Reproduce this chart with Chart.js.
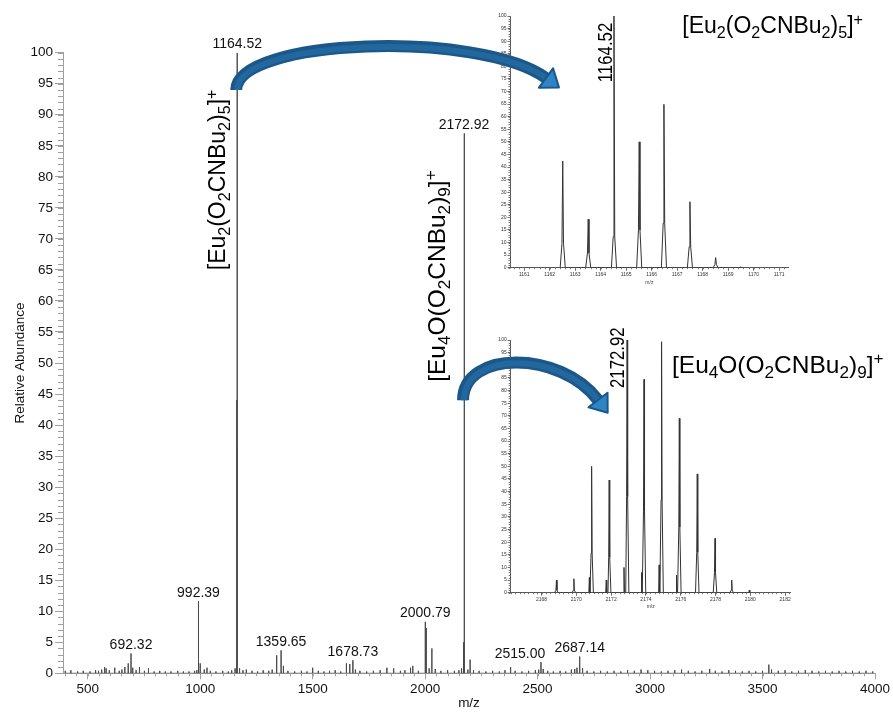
<!DOCTYPE html>
<html><head><meta charset="utf-8">
<script src="https://cdn.jsdelivr.net/npm/chart.js@4.4.1/dist/chart.umd.min.js"></script>
<style>
html,body{margin:0;padding:0;background:#fff;}
#wrap{position:relative;width:893px;height:715px;overflow:hidden;background:#fff;}
canvas{position:absolute;display:block;}
</style></head><body>
<div id="wrap">
<canvas id="main" width="893" height="715" style="left:0;top:0;width:893px;height:715px"></canvas>
<canvas id="insetA" width="420" height="292" style="left:470px;top:0;width:420px;height:292px"></canvas>
<canvas id="insetB" width="420" height="300" style="left:470px;top:315px;width:420px;height:300px"></canvas>
<canvas id="overlay" width="893" height="715" style="left:0;top:0;width:893px;height:715px;pointer-events:none"></canvas>
</div>
<script>
// ---------------- DATA ----------------
// Full-scan spectrum: m/z positions and relative abundances (%)
const mainMz = [
  400, 425, 455, 480, 510, 535, 548, 562, 575, 582,
  596, 620, 640, 652, 665, 680, 692.32, 700, 715, 730,
  752, 770, 795, 820, 845, 870, 900, 925, 950, 975,
  985, 992.39, 1000, 1018, 1030, 1045, 1070, 1100, 1125, 1140,
  1155, 1162.5, 1164.52, 1175, 1190, 1205, 1230, 1255, 1280, 1305,
  1320, 1340, 1359.65, 1370, 1390, 1420, 1450, 1475, 1500, 1525,
  1550, 1575, 1600, 1625, 1650, 1665, 1678.73, 1690, 1710, 1740,
  1770, 1800, 1830, 1860, 1890, 1910, 1935, 1945, 1970, 2000.79,
  2005, 2018, 2030, 2045, 2070, 2100, 2130, 2150, 2162, 2170.9,
  2172.92, 2175, 2190, 2200, 2215, 2240, 2270, 2300, 2330, 2355,
  2380, 2400, 2430, 2460, 2490, 2505, 2515, 2525, 2545, 2570,
  2600, 2625, 2650, 2665, 2675, 2687.14, 2700, 2720, 2750, 2780,
  2810, 2840, 2870, 2900, 2930, 2960, 2990, 3020, 3050, 3080,
  3110, 3140, 3170, 3200, 3230, 3265, 3290, 3320, 3350, 3380,
  3410, 3440, 3470, 3500, 3528, 3540, 3570, 3600, 3630, 3660,
  3690, 3720, 3750, 3780, 3810, 3840, 3870, 3900, 3930, 3960,
  3990
];
const mainAbund = [
  0.4, 0.5, 0.3, 0.4, 0.3, 0.5, 0.4, 0.6, 1.0, 0.8,
  0.5, 0.9, 0.4, 0.6, 1.0, 1.6, 3.2, 0.9, 0.5, 1.0,
  0.4, 0.8, 0.3, 0.4, 0.3, 0.3, 0.4, 0.3, 0.3, 0.4,
  0.5, 11.6, 1.6, 0.6, 0.9, 0.4, 0.3, 0.4, 0.3, 0.5,
  0.8, 44, 100, 0.8, 0.5, 0.6, 0.4, 0.3, 0.5, 0.4,
  0.6, 2.9, 3.7, 1.2, 0.4, 0.3, 0.4, 0.3, 0.9, 0.4,
  0.3, 0.4, 0.5, 0.3, 1.6, 1.5, 2.1, 0.6, 0.4, 0.3,
  0.4, 0.5, 0.9, 0.8, 0.4, 0.5, 0.9, 1.2, 0.4, 8.3,
  7.3, 0.8, 4.0, 0.7, 0.4, 0.5, 0.4, 0.5, 0.8, 5.0,
  87, 4.5, 0.6, 2.2, 0.5, 0.4, 0.3, 0.4, 0.3, 0.5,
  1.0, 0.4, 0.3, 0.4, 0.5, 0.6, 1.8, 0.7, 0.4, 0.3,
  0.4, 0.3, 0.6, 0.7, 0.9, 2.7, 0.8, 0.4, 0.3, 0.4,
  0.3, 0.4, 0.3, 0.5, 0.4, 0.6, 0.5, 0.4, 0.3, 0.4,
  0.5, 0.6, 0.4, 0.3, 0.4, 0.7, 0.4, 0.3, 0.5, 0.4,
  0.3, 0.4, 0.3, 0.4, 1.4, 0.6, 0.4, 0.5, 0.3, 0.4,
  0.5, 0.4, 0.3, 0.4, 0.3, 0.4, 0.3, 0.4, 0.3, 0.4,
  0.3
];
// Labelled peaks of the full spectrum
const peakLabelMz = [692.32, 992.39, 1164.52, 1359.65, 1678.73, 2000.79, 2172.92, 2515.00, 2687.14];
const peakLabelText = ['692.32', '992.39', '1164.52', '1359.65', '1678.73', '2000.79', '2172.92', '2515.00', '2687.14'];
// Axis ticks of the full spectrum
const mainXTicks = [500, 1000, 1500, 2000, 2500, 3000, 3500, 4000];
const mainYTicks = [0, 5, 10, 15, 20, 25, 30, 35, 40, 45, 50, 55, 60, 65, 70, 75, 80, 85, 90, 95, 100];

// Inset A: isotope pattern of [Eu2(O2CNBu2)5]+
const insetAMz = [1162.51, 1163.51, 1164.52, 1165.51, 1166.48, 1167.50, 1168.51, 1169.49];
const insetAAbund = [42.4, 19.3, 100, 50, 64.9, 26.2, 4.0, 0.4];
const insetAFoot = [9.7, 5.8, 12.3, 15, 17.7, 8.3, 1.2, 0];
const insetAXTicks = [1161, 1162, 1163, 1164, 1165, 1166, 1167, 1168, 1169, 1170, 1171];

// Inset B: isotope pattern of [Eu4O(O2CNBu2)9]+
const insetBMz = [2168.86, 2169.86, 2170.75, 2170.88, 2171.72, 2171.89, 2172.74, 2172.92, 2173.75, 2173.89,
                  2174.76, 2174.90, 2175.76, 2175.92, 2176.95, 2177.97, 2178.93, 2179.94];
const insetBAbund = [5, 5.5, 6, 50, 5, 44.6, 10, 100, 8, 84.4,
                     11, 99.3, 7, 69, 47, 21.5, 5, 1];
const insetBFoot = [1, 1, 0, 15.7, 0, 14, 0, 38, 0, 32,
                    0, 36.7, 0, 26, 16, 8, 1, 0];
const insetBXTicks = [2168, 2170, 2172, 2174, 2176, 2178, 2180, 2182];
const insetYTicks = mainYTicks;

// Formula labels (text segments: normal / sub / sup)
const formulaA = [['[Eu',''],['2','sub'],['(O',''],['2','sub'],['CNBu',''],['2','sub'],[')',''],['5','sub'],[']',''],['+','sup']];
const formulaB = [['[Eu',''],['4','sub'],['O(O',''],['2','sub'],['CNBu',''],['2','sub'],[')',''],['9','sub'],[']',''],['+','sup']];

// ---------------- HELPERS ----------------
const FONT = '"Liberation Sans", Arial, Helvetica, sans-serif';
function sticks(mz, ab){
  const p = [];
  mz.forEach((m,i)=>{ p.push({x:m,y:0},{x:m,y:ab[i]},{x:m,y:0}); });
  return p;
}
function profile(mz, ab, foot, w){
  const p = [];
  mz.forEach((m,i)=>{ p.push({x:m-w,y:0},{x:m-w*0.3,y:foot[i]},{x:m,y:ab[i]},{x:m+w*0.3,y:foot[i]},{x:m+w,y:0}); });
  return p;
}
function range(a,b,s){ const r=[]; for(let v=a; v<=b+1e-9; v+=s) r.push(+v.toFixed(4)); return r; }

function richWidth(ctx, segs, size, subScale){
  let w=0;
  for(const [t,k] of segs){ ctx.font = (k? size*subScale : size)+'px '+FONT; w += ctx.measureText(t).width; }
  return w;
}
function drawRich(ctx, segs, x, y, size){
  const subScale = 0.7;
  let cx = x;
  ctx.textAlign='left'; ctx.textBaseline='alphabetic';
  for(const [t,k] of segs){
    const s = k ? size*subScale : size;
    ctx.font = s+'px '+FONT;
    const dy = k==='sub' ? size*0.2 : (k==='sup' ? -size*0.36 : 0);
    ctx.fillText(t, cx, y+dy);
    cx += ctx.measureText(t).width;
  }
  return cx - x;
}
function drawRichRotated(ctx, segs, baseX, centerY, size){
  const w = richWidth(ctx, segs, size, 0.7);
  ctx.save();
  ctx.translate(baseX, centerY);
  ctx.rotate(-Math.PI/2);
  drawRich(ctx, segs, -w/2, 0, size);
  ctx.restore();
}

const minorTicks = {
  id:'minorTicks',
  afterDraw(chart, args, o){
    const ctx = chart.ctx, xs = chart.scales.x, ys = chart.scales.y;
    ctx.save();
    ctx.strokeStyle = o.color; ctx.lineWidth = 1;
    ctx.beginPath();
    for(const v of o.x){
      if(v < xs.min || v > xs.max) continue;
      const px = Math.round(xs.getPixelForValue(v)) + 0.5;
      ctx.moveTo(px, ys.bottom); ctx.lineTo(px, ys.bottom + o.xLen);
    }
    for(const v of o.y){
      const py = Math.round(ys.getPixelForValue(v)) + 0.5;
      ctx.moveTo(xs.left, py); ctx.lineTo(xs.left - o.yLen, py);
    }
    ctx.stroke();
    ctx.restore();
  }
};

const mainLabels = {
  id:'mainLabels',
  afterDatasetsDraw(chart){
    const ctx = chart.ctx, xs = chart.scales.x, ys = chart.scales.y;
    ctx.save();
    ctx.fillStyle = '#111';
    ctx.font = '14px '+FONT;
    ctx.textAlign = 'center'; ctx.textBaseline = 'alphabetic';
    peakLabelMz.forEach((m,i)=>{
      const ab = mainAbund[mainMz.indexOf(m)];
      const dx = m === 2515.00 ? -21 : 0;
      ctx.fillText(peakLabelText[i], xs.getPixelForValue(m)+dx, ys.getPixelForValue(ab)-4.5);
    });
    // rotated formula labels beside the two dominant peaks
    ctx.fillStyle = '#000';
    drawRichRotated(ctx, formulaA, xs.getPixelForValue(1164.52)-12, ys.getPixelForValue(79.5), 23);
    drawRichRotated(ctx, formulaB, xs.getPixelForValue(2172.92)-19, ys.getPixelForValue(64), 24.5);
    ctx.restore();
  }
};

const insetLabels = {
  id:'insetLabels',
  afterDatasetsDraw(chart, args, o){
    const ctx = chart.ctx, xs = chart.scales.x, ys = chart.scales.y;
    ctx.save();
    ctx.fillStyle = '#000';
    ctx.font = '20px '+FONT;
    ctx.translate(xs.getPixelForValue(o.mz) + o.dx, ys.getPixelForValue(o.val));
    ctx.rotate(-Math.PI/2);
    ctx.scale(0.84, 1);
    ctx.textAlign = 'center'; ctx.textBaseline = 'alphabetic';
    ctx.fillText(o.text, 0, 0);
    ctx.restore();
    ctx.save();
    ctx.fillStyle = '#000';
    drawRich(ctx, o.formula, xs.right + o.fx, o.fy, o.fsize);
    ctx.restore();
  }
};

// ---------------- MAIN CHART ----------------
const mainChart = new Chart(document.getElementById('main'), {
  type:'line',
  data:{ datasets:[{ data: sticks(mainMz, mainAbund), borderColor:'#4a4a4a', borderWidth:1, pointRadius:0, tension:0, fill:false }] },
  options:{
    responsive:false, animation:false, events:[],
    layout:{ padding:{ left:0, top:52.7, right:18, bottom:0 } },
    plugins:{ legend:{display:false}, tooltip:{enabled:false},
      minorTicks:{ x: range(400, 4000, 50), y: range(0, 100, 1), xLen:3, yLen:5, color:'#a0a0a0' } },
    scales:{
      x:{ type:'linear', min:390, max:4000,
        afterFit(s){ s.height = 41.7; },
        afterBuildTicks(s){ s.ticks = mainXTicks.map(v=>({value:v})); },
        ticks:{ font:{family:FONT, size:13.5}, color:'#111', padding:2, maxRotation:0, autoSkip:false, callback:v=>String(v) },
        grid:{ drawOnChartArea:false, tickLength:6, color:'#a0a0a0', tickColor:'#a0a0a0' },
        border:{ color:'#a0a0a0', width:1 },
        title:{ display:true, text:'m/z', font:{family:FONT, size:13.5}, color:'#111', padding:{top:0,bottom:4} }
      },
      y:{ type:'linear', min:0, max:100,
        afterFit(s){ s.width = 63; },
        afterBuildTicks(s){ s.ticks = mainYTicks.map(v=>({value:v})); },
        ticks:{ font:{family:FONT, size:13.5}, color:'#111', padding:2, autoSkip:false, callback:v=>String(v) },
        grid:{ drawOnChartArea:false, tickLength:8, color:'#a0a0a0', tickColor:'#a0a0a0' },
        border:{ color:'#a0a0a0', width:1 },
        title:{ display:true, text:'Relative Abundance', font:{family:FONT, size:13.5}, color:'#111', padding:{top:12,bottom:0} }
      }
    }
  },
  plugins:[minorTicks, mainLabels]
});

// ---------------- INSETS ----------------
function makeInset(id, pts, xmin, xmax, xTicks, xMinor, pad, yW, xH, titleBottom, labelOpts){
  return new Chart(document.getElementById(id), {
    type:'line',
    data:{ datasets:[{ data: pts, borderColor:'#333', borderWidth:1, pointRadius:0, tension:0, fill:false }] },
    options:{
      responsive:false, animation:false, events:[],
      layout:{ padding: pad },
      plugins:{ legend:{display:false}, tooltip:{enabled:false},
        minorTicks:{ x: xMinor, y: range(0,100,1), xLen:1.5, yLen:2, color:'#777' },
        insetLabels: labelOpts },
      scales:{
        x:{ type:'linear', min:xmin, max:xmax,
          afterFit(s){ s.height = xH; },
          afterBuildTicks(s){ s.ticks = xTicks.map(v=>({value:v})); },
          ticks:{ font:{family:FONT, size:5}, color:'#333', padding:1, maxRotation:0, autoSkip:false, callback:v=>String(v) },
          grid:{ drawOnChartArea:false, tickLength:3, color:'#666', tickColor:'#666' },
          border:{ color:'#555', width:1 },
          title:{ display:true, text:'m/z', font:{family:FONT, size:5}, color:'#333', padding:{top:0,bottom:titleBottom} }
        },
        y:{ type:'linear', min:0, max:100,
          afterFit(s){ s.width = yW; },
          afterBuildTicks(s){ s.ticks = insetYTicks.map(v=>({value:v})); },
          ticks:{ font:{family:FONT, size:5}, color:'#333', padding:1, autoSkip:false, callback:v=>String(v) },
          grid:{ drawOnChartArea:false, tickLength:3, color:'#666', tickColor:'#666' },
          border:{ color:'#555', width:1 }
        }
      }
    },
    plugins:[minorTicks, insetLabels]
  });
}

const insetA = makeInset('insetA', profile(insetAMz, insetAAbund, insetAFoot, 0.1),
  1160.46, 1171.36, insetAXTicks, range(1160.6, 1171.2, 0.2),
  {left:0, top:16, right:101.7, bottom:0}, 40.5, 24.3, 6,
  { text:'1164.52', mz:1164.52, dx:-2, val:85.5, formula: formulaA, fx:-106, fy:33, fsize:23 });

const insetB = makeInset('insetB', profile(insetBMz, insetBAbund, insetBFoot, 0.1),
  2166.23, 2182.32, insetBXTicks, range(2166.25, 2182.25, 0.25),
  {left:0, top:25, right:99.3, bottom:0}, 40.7, 22.3, 5,
  { text:'2172.92', mz:2172.92, dx:-3, val:93, formula: formulaB, fx:-118.7, fy:58, fsize:24.5 });

// ---------------- ARROWS (annotation overlay) ----------------
(function(){
  const c = document.getElementById('overlay');
  const ctx = c.getContext('2d');
  const xs = mainChart.scales.x, ys = mainChart.scales.y;
  function arrow(p0, c1, c2, p3){
    ctx.save();
    ctx.lineCap = 'butt';
    ctx.beginPath(); ctx.moveTo(p0[0],p0[1]); ctx.bezierCurveTo(c1[0],c1[1],c2[0],c2[1],p3[0],p3[1]);
    ctx.strokeStyle = '#1b5889'; ctx.lineWidth = 12; ctx.stroke();
    ctx.beginPath(); ctx.moveTo(p0[0]+1,p0[1]); ctx.bezierCurveTo(c1[0]+1,c1[1]+1,c2[0],c2[1]+1,p3[0],p3[1]);
    ctx.strokeStyle = '#22679e'; ctx.lineWidth = 6; ctx.stroke();
    const dx = p3[0]-c2[0], dy = p3[1]-c2[1], L = Math.hypot(dx,dy);
    const ux = dx/L, uy = dy/L, nx = -uy, ny = ux;
    const hw = 12, hl = 16;
    ctx.beginPath();
    ctx.moveTo(p3[0]+nx*hw, p3[1]+ny*hw);
    ctx.lineTo(p3[0]+ux*hl, p3[1]+uy*hl);
    ctx.lineTo(p3[0]-nx*hw, p3[1]-ny*hw);
    ctx.closePath();
    ctx.fillStyle = '#2f84c6'; ctx.fill();
    ctx.strokeStyle = '#1b5889'; ctx.lineWidth = 2; ctx.lineJoin='round'; ctx.stroke();
    ctx.restore();
  }
  const t1x = xs.getPixelForValue(1164.52) - 1, t1y = ys.getPixelForValue(94);
  arrow([t1x, t1y], [t1x, 38], [480, 30], [546, 78]);
  const t2x = xs.getPixelForValue(2172.92) - 1, t2y = ys.getPixelForValue(44.0);
  arrow([t2x, t2y], [t2x, 350], [560, 350], [598, 400]);
})();
</script>
</body></html>
